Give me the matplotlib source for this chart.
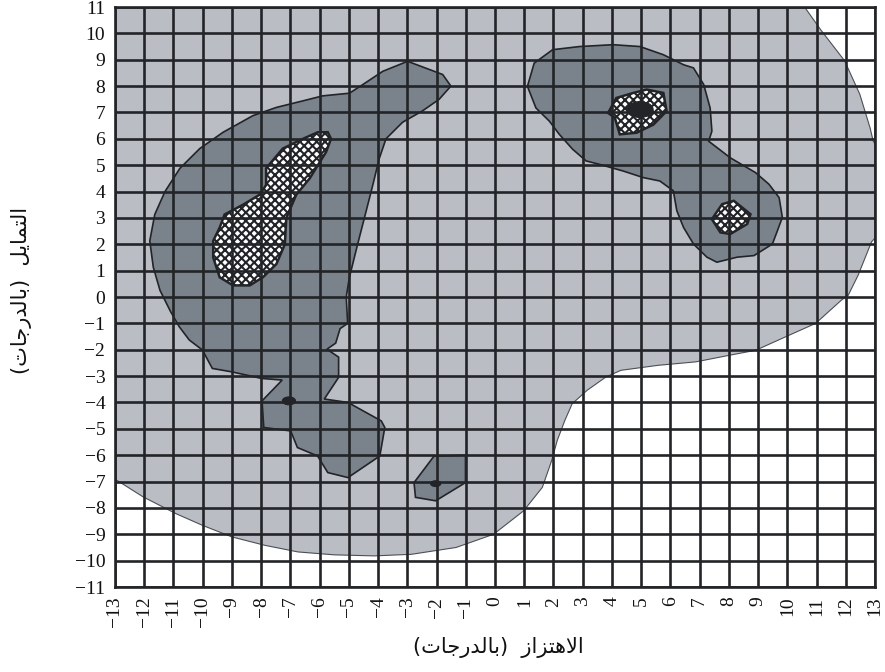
import matplotlib
matplotlib.use("Agg")
import matplotlib.pyplot as plt
from matplotlib.patches import Polygon, Ellipse

# ---- axis ranges and ticks -------------------------------------------------
x_ticks = list(range(-13, 14))
y_ticks = list(range(-11, 12))

# ---- region outlines (degrees) ---------------------------------------------
# allowed (light) region
light_x = [-13.5, 10.27, 10.59, 11.16, 11.96, 12.48, 12.83, 12.94, 13.3, 13.3,
           12.88, 12.42, 12.08, 11.86, 10.97, 9.94, 8.92, 8.02, 6.87, 5.59,
           4.31, 3.80, 3.15, 2.64, 2.39, 2.13, 1.94, 1.62, 0.98, -0.05,
           -1.33, -2.86, -4.14, -5.5, -6.74, -7.87, -9.0, -10.01, -10.91,
           -12.04, -12.94, -13.5]
light_y = [11.5, 11.5, 11.0, 10.11, 8.96, 7.69, 6.42, 5.91, 5.3, 2.6,
           2.09, 0.82, 0.06, -0.11, -1.0, -1.51, -2.02, -2.21, -2.46, -2.59,
           -2.78, -3.03, -3.54, -4.05, -4.68, -5.44, -6.20, -7.22, -8.11, -9.0,
           -9.50, -9.76, -9.82, -9.78, -9.67, -9.42, -9.1, -8.66, -8.22,
           -7.58, -6.95, -6.7]

# favoured (dark) regions
dark_left_x = [-2.99, -1.79, -1.51, -1.91, -2.48, -3.16, -3.73, -3.96, -4.18,
               -4.41, -4.70, -4.98, -5.09, -5.04, -5.30, -5.45, -5.75, -5.35,
               -5.35, -5.84, -5.03, -3.89, -3.77, -3.94, -5.03, -5.72, -6.07,
               -6.76, -6.99, -7.91, -7.97, -7.28, -7.98, -9.0, -9.67, -10.01,
               -10.46, -10.80, -11.10, -11.46, -11.69, -11.81, -11.64, -11.29,
               -10.78, -10.10, -9.30, -8.28, -7.48, -6.57, -5.89, -4.98,
               -4.52, -3.84]
dark_left_y = [8.94, 8.44, 8.0, 7.5, 7.06, 6.63, 6.0, 5.25, 4.25,
               3.25, 2.0, 0.75, 0.0, -1.0, -1.2, -1.75, -1.98, -2.28,
               -3.05, -3.87, -4.0, -4.70, -4.95, -6.03, -6.85, -6.66, -6.03,
               -5.71, -5.08, -4.95, -3.94, -3.15, -3.09, -2.84, -2.71, -2.01,
               -1.63, -1.13, -0.55, 0.25, 1.13, 2.13, 3.13, 4.0,
               4.88, 5.63, 6.25, 6.88, 7.19, 7.44, 7.63, 7.73,
               8.06, 8.56]

dark_right_x = [1.11, 1.34, 1.97, 2.89, 4.04, 4.96, 5.76, 6.45, 6.79, 7.14,
                7.36, 7.42, 7.31, 8.05, 8.91, 9.37, 9.72, 9.83, 9.66, 9.49,
                8.86, 8.28, 7.59, 7.25, 6.79, 6.45, 6.22, 6.10, 5.64, 5.07,
                4.38, 3.58, 3.12, 2.66, 2.20, 1.86, 1.40]
dark_right_y = [7.99, 8.87, 9.38, 9.50, 9.57, 9.50, 9.19, 8.81, 8.69, 8.06,
                7.17, 6.29, 5.91, 5.28, 4.72, 4.28, 3.77, 3.02, 2.51, 2.01,
                1.57, 1.51, 1.32, 1.51, 2.01, 2.64, 3.27, 4.03, 4.40, 4.53,
                4.78, 5.03, 5.16, 5.60, 6.17, 6.67, 7.17]

dark_small_x = [-2.09, -1.01, -1.01, -2.03, -2.72, -2.77]
dark_small_y = [-6.04, -6.0, -7.04, -7.73, -7.60, -7.04]

# most favoured (meshed) cores
core_left_x = [-6.06, -5.72, -5.61, -5.78, -6.34, -6.80, -7.14, -7.19, -7.48,
               -7.94, -8.39, -8.96, -9.42, -9.64, -9.64, -9.42, -9.25, -8.62,
               -8.05, -7.83, -7.83, -7.26, -6.57]
core_left_y = [6.25, 6.25, 6.0, 5.5, 4.5, 3.88, 3.0, 2.0, 1.25,
               0.75, 0.44, 0.44, 0.75, 1.5, 2.13, 2.63, 3.13, 3.5,
               3.88, 4.25, 4.88, 5.63, 6.0]

core_top_x = [3.87, 4.15, 4.73, 5.19, 5.76, 5.87, 5.42, 4.84, 4.27, 4.10]
core_top_y = [6.98, 7.55, 7.74, 7.87, 7.74, 7.05, 6.54, 6.23, 6.17, 6.80]

core_mid_x = [7.42, 7.77, 8.17, 8.74, 8.63, 8.05, 7.71]
core_mid_y = [2.95, 3.52, 3.65, 3.14, 2.77, 2.39, 2.45]

# small solid spots: centre x, centre y, width, height
spot_x = [4.96, -7.05, -2.03]
spot_y = [7.11, -3.94, -7.08]
spot_w = [0.9, 0.45, 0.35]
spot_h = [0.6, 0.30, 0.22]

x_label = "(\ufe95\ufe8e\ufe9f\ufead\ufeaa\ufedf\ufe8e\ufe91)  \ufeaf\ufe8d\ufeb0\ufe98\ufeeb\ufefb\ufe8d"
y_label = "(\ufe95\ufe8e\ufe9f\ufead\ufeaa\ufedf\ufe8e\ufe91)  \ufede\ufef3\ufe8e\ufee4\ufe98\ufedf\ufe8d"

# ---- style -----------------------------------------------------------------
LIGHT = "#babdc4"
DARK = "#7a838b"
INK = "#222427"

plt.rcParams["hatch.linewidth"] = 1.5

fig = plt.figure(figsize=(8.85, 6.72), dpi=100)
ax = fig.add_axes([115 / 885, 1 - 587 / 672, 760 / 885, 580 / 672])
ax.set_xlim(-13, 13)
ax.set_ylim(-11, 11)

ax.add_patch(Polygon(list(zip(light_x, light_y)), closed=True,
                     facecolor=LIGHT, edgecolor="#4a5056", lw=0.8, zorder=1))
for xs, ys in [(dark_left_x, dark_left_y), (dark_right_x, dark_right_y),
               (dark_small_x, dark_small_y)]:
    ax.add_patch(Polygon(list(zip(xs, ys)), closed=True,
                         facecolor=DARK, edgecolor=INK, lw=1.2, zorder=1.2))

# mesh cores: white fill crossed by a dense dark lattice
for xs, ys in [(core_left_x, core_left_y), (core_top_x, core_top_y),
               (core_mid_x, core_mid_y)]:
    ax.add_patch(Polygon(list(zip(xs, ys)), closed=True, facecolor="white",
                         edgecolor=INK, hatch="xxxx", lw=1.8, zorder=1.4))

for cx, cy, w, h in zip(spot_x, spot_y, spot_w, spot_h):
    ax.add_patch(Ellipse((cx, cy), w, h, facecolor=INK, edgecolor=INK,
                         lw=0.8, zorder=1.6))

# grid on top of the shaded regions
ax.set_axisbelow(False)
ax.set_xticks(x_ticks)
ax.set_yticks(y_ticks)
ax.grid(True, color=INK, lw=1.9)
for s in ax.spines.values():
    s.set_color(INK)
    s.set_linewidth(1.9)
    s.set_zorder(3)

ax.set_xticklabels([str(v).replace("-", "\u2212") for v in x_ticks],
                   rotation=90, fontfamily="Liberation Serif", fontsize=14)
ax.set_yticklabels([str(v).replace("-", "\u2212") for v in y_ticks],
                   fontfamily="Liberation Serif", fontsize=14)
ax.tick_params(length=0, pad=7, colors="#111111")

fig.text(498 / 885, 1 - 648 / 672, x_label, ha="center", va="center",
         fontsize=15, family="DejaVu Sans", color="#111111")
fig.text(22 / 885, 1 - 290 / 672, y_label, ha="center", va="center",
         rotation=90, fontsize=15, family="DejaVu Sans", color="#111111")

fig.savefig("out.png", dpi=100)
